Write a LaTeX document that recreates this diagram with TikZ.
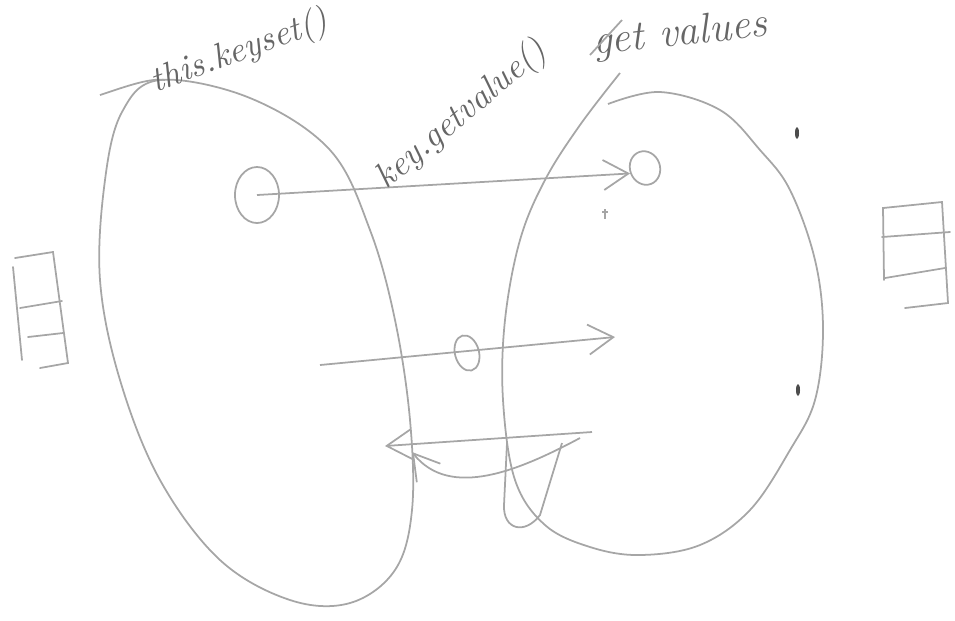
\documentclass[tikz,border=0pt]{standalone}
\usepackage{tikz}
\usetikzlibrary{arrows.meta,shapes.geometric}

\begin{document}
\begin{tikzpicture}[
    x=0.01cm, y=-0.01cm,
    pencil/.style={draw=gray!70, line width=0.5pt},
    ring/.style={pencil, ellipse, inner sep=0pt},
    note/.style={font=\itshape, text=gray!80!black},
    slot/.style={pencil, line cap=round},
    >={Straight Barb[length=2.5mm, width=3mm]}]

    \useasboundingbox (0,0) rectangle (955,620);

    % the two maps
    \draw[pencil] plot[smooth cycle, tension=0.6] coordinates {(160,80) (250,98) (330,150) (370,230) (395,320) (410,420) (412,510) (395,570) (350,603) (290,600) (220,560) (160,480) (120,380) (100,280) (105,180) (122,112)};
    \draw[pencil] (100,95) .. controls (130,85) and (150,78) .. (165,80);
    \draw[pencil] plot[smooth, tension=0.6] coordinates {(620,73) (580,125) (545,180) (520,240) (505,320) (503,400) (515,480) (545,525) (590,547) (640,555) (700,545) (750,510) (790,450) (815,400) (823,330) (815,260) (790,190) (760,150) (720,110) (660,92) (608,104)};

    % keys and values
    \node[ring, minimum width=0.44cm, minimum height=0.56cm] (keyA) at (257,195) {};
    \node[ring, minimum width=0.30cm, minimum height=0.34cm, rotate=20] (valA) at (645,168) {};
    \node[ring, minimum width=0.24cm, minimum height=0.36cm, rotate=15] (keyB) at (467,353) {};
    \coordinate (midfrom) at (320,365);
    \coordinate (midto) at (615,337);
    \coordinate (lowfrom) at (592,432);
    \coordinate (lowto) at (385,446);
    \coordinate (bendfrom) at (580,438);
    \coordinate (bendto) at (412,452);

    \draw[pencil, ->] (keyA.center) -- (valA.west);
    \draw[pencil, ->] (midfrom) -- (midto);
    \draw[pencil, ->] (lowfrom) -- (lowto);
    \draw[pencil, ->] (bendfrom) .. controls (520,470) and (450,500) .. (bendto);
    \draw[pencil] (507,443) -- (504,505) .. controls (503,530) and (525,535) .. (540,515) -- (562,443);

    % marks
    \fill[gray!60!black] (797,133) ellipse (2 and 6);
    \fill[gray!60!black] (798,390) ellipse (2 and 6);
    \draw[pencil] (605,209) -- (605,219) (602,212) -- (608,212);

    % stacks
    \draw[slot] (15,258) -- (53,252) -- (68,363) -- (40,368);
    \draw[slot] (13,267) -- (22,360);
    \draw[slot] (20,308) -- (62,301);
    \draw[slot] (28,337) -- (63,333);

    \draw[slot] (884,280) -- (883,208) -- (942,202) -- (948,303) -- (905,308);
    \draw[slot] (882,237) -- (950,232);
    \draw[slot] (885,278) -- (945,268);

    % labels
    \node[note, rotate=20, font=\itshape] (keyset) at (240,52) {this.keyset()};
    \node[note, rotate=40, font=\itshape] (getvalue) at (462,115) {key.getvalue()};
    \node[note, rotate=6, font=\large\itshape] (values) at (680,35) {get values};
    \draw[pencil] (590,55) -- (622,20);
\end{tikzpicture}
\end{document}
